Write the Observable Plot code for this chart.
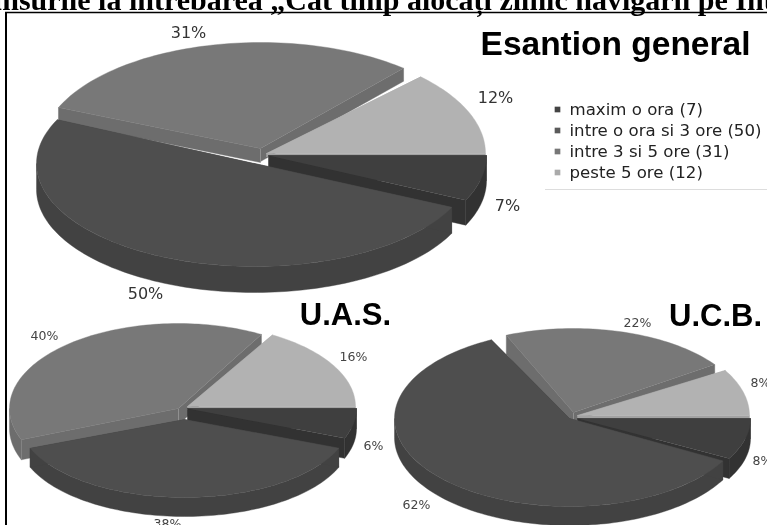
<!DOCTYPE html>
<html>
<head>
<meta charset="utf-8">
<style>
html,body{margin:0;padding:0;background:#fff;overflow:hidden}
svg{display:block;filter:blur(0.45px)}
</style>
<script src="https://cdn.jsdelivr.net/npm/d3@7"></script>
<script src="https://cdn.jsdelivr.net/npm/@observablehq/plot@0.6"></script>
</head>
<body>
<div id="chart"></div>
<script>
// ---- data ----
const categories = ["maxim o ora", "intre o ora si 3 ore", "intre 3 si 5 ore", "peste 5 ore"];
const generalValues = [7, 50, 31, 12];
const uasValues = [6, 38, 40, 16];
const ucbValues = [8, 62, 22, 8];
const chartTitle = "Răspunsurile la întrebarea „Cât timp alocați zilnic navigării pe Internet?”";
const pieTitles = ["Esantion general", "U.A.S.", "U.C.B."];

// ---- styles and layout ----
const topColors = ["#3f3f3f", "#4e4e4e", "#787878", "#b2b2b2"];
const sideColors = ["#323232", "#424242", "#6d6d6d", "#a2a2a2"];
const legendColors = ["#444444", "#5a5a5a", "#777777", "#aaaaaa"];
const paintOrder = [2, 3, 0, 1];
// per-slice placement: exploded centre, radii, extrusion of outer wall and of the two radial walls,
// perspective trim (degrees) of the arc ends
const generalLayout = [
  {cx: 268, cy: 155, rx: 218, ry: 105, d: 25, w: [25, 25], trim: [0, 0]},
  {cx: 254, cy: 163, rx: 218, ry: 103, d: 26, w: [26, 26], trim: [0, 0]},
  {cx: 260, cy: 148, rx: 219, ry: 106, d: 25, w: [14, 13], trim: [-2.5, -6]},
  {cx: 266, cy: 153, rx: 219, ry: 108, d: 25, w: [3, 3], trim: [-2, 0]}
];
const uasLayout = [
  {cx: 187, cy: 408, rx: 169, ry: 81, d: 20, w: [20, 20], trim: [0, 0]},
  {cx: 184, cy: 419, rx: 166, ry: 78, d: 19, w: [19, 19], trim: [0, 0]},
  {cx: 178, cy: 408, rx: 169, ry: 85, d: 20, w: [20, 16], trim: [0, -3]},
  {cx: 187, cy: 406, rx: 168, ry: 83, d: 20, w: [3, 3], trim: [-2, 0]}
];
const ucbLayout = [
  {cx: 577, cy: 418, rx: 173, ry: 83, d: 20, w: [20, 20], trim: [0, 0]},
  {cx: 569, cy: 418, rx: 175, ry: 88, d: 19, w: [19, 19], trim: [0, -8.5]},
  {cx: 573, cy: 412, rx: 172, ry: 84, d: 20, w: [19, 9], trim: [-5, -6]},
  {cx: 577, cy: 415, rx: 172, ry: 88, d: 20, w: [3, 3], trim: [-2, 0]}
];

const rad = Math.PI / 180;
function arcAngles(a0, a1) {
  const n = Math.max(2, Math.ceil(Math.abs(a1 - a0) / 1.5));
  return d3.range(n + 1).map(i => a0 + (a1 - a0) * i / n);
}
// Turns one pie's values into polygons, back slices first
function piePolygons(values, layout) {
  const total = d3.sum(values);
  const ends = d3.cumsum(values).map(v => v / total * 360);
  const polys = [];
  for (const i of paintOrder) {
    const s = layout[i];
    const a0 = (i ? ends[i - 1] : 0) + s.trim[0];
    const a1 = ends[i] + s.trim[1];
    const at = (a, dz = 0) => ({
      x: s.cx + s.rx * Math.cos(a * rad),
      y: s.cy + s.ry * Math.sin(a * rad) + dz
    });
    const apex = dz => ({x: s.cx, y: s.cy + dz});
    // outer wall: only the part of the arc facing the viewer (0..180 degrees)
    const lo = Math.max(a0, 0), hi = Math.min(a1, 180);
    if (hi > lo) {
      const arc = arcAngles(lo, hi);
      polys.push({fill: sideColors[i], pts: [...arc.map(a => at(a)), ...arc.slice().reverse().map(a => at(a, s.d))]});
    }
    // radial walls
    [a0, a1].forEach((a, k) => {
      polys.push({fill: sideColors[i], pts: [apex(0), at(a), at(a, s.w[k]), apex(s.w[k])]});
    });
    // top face
    polys.push({fill: topColors[i], pts: [apex(0), ...arcAngles(a0, a1).map(a => at(a))]});
  }
  return polys;
}

const polygons = [
  ...piePolygons(generalValues, generalLayout),
  ...piePolygons(uasValues, uasLayout),
  ...piePolygons(ucbValues, ucbLayout)
];

const pct = v => v + "%";
const labelFont = "DejaVu Sans";
const bigLabels = [
  {x: 507, y: 205, t: pct(generalValues[0])},
  {x: 145, y: 293, t: pct(generalValues[1])},
  {x: 188, y: 32, t: pct(generalValues[2])},
  {x: 495, y: 97, t: pct(generalValues[3])}
];
const smallLabels = [
  {x: 373, y: 445, t: pct(uasValues[0])},
  {x: 167, y: 523, t: pct(uasValues[1])},
  {x: 44, y: 335, t: pct(uasValues[2])},
  {x: 353, y: 356, t: pct(uasValues[3])},
  {x: 762, y: 460, t: pct(ucbValues[0])},
  {x: 416, y: 504, t: pct(ucbValues[1])},
  {x: 637, y: 322, t: pct(ucbValues[2])},
  {x: 760, y: 382, t: pct(ucbValues[3])}
];
const legendRows = categories.map((c, i) => ({
  c, fill: legendColors[i], y: 109 + i * 21,
  t: `${c} (${generalValues[i]})`
}));
const headings = [
  {x: 615, y: 44, t: pieTitles[0], s: 33.5},
  {x: 345, y: 315, t: pieTitles[1], s: 31},
  {x: 715, y: 316, t: pieTitles[2], s: 31}
];

const chart = Plot.plot({
  width: 767,
  height: 525,
  margin: 0,
  style: {background: "#fff", color: "#000"},
  x: {domain: [0, 767], range: [0, 767], axis: null},
  y: {domain: [0, 525], range: [0, 525], axis: null},
  marks: [
    ...polygons.map(p => Plot.line(p.pts, {x: "x", y: "y", fill: p.fill, stroke: p.fill, strokeWidth: 0.4, curve: "linear"})),
    Plot.ruleX([5.5], {y1: 12, y2: 525, stroke: "#000", strokeWidth: 2}),
    Plot.ruleY([12], {x1: 5, x2: 767, stroke: "#000", strokeWidth: 1.6}),
    Plot.ruleY([189], {x1: 545, x2: 767, stroke: "#dddddd", strokeWidth: 1}),
    Plot.text([chartTitle], {x: -80, y: 9, text: d => d, textAnchor: "start", lineAnchor: "bottom",
      fontFamily: "Liberation Serif", fontWeight: "bold", fontSize: 30, fill: "#000"}),
    Plot.text(bigLabels, {x: "x", y: "y", text: "t", fontFamily: labelFont, fontSize: 16, fill: "#333"}),
    Plot.text(smallLabels, {x: "x", y: "y", text: "t", fontFamily: labelFont, fontSize: 12.5, fill: "#444"}),
    Plot.dot(legendRows, {x: 557, y: "y", symbol: "square", r: 3.2, fill: "fill"}),
    Plot.text(legendRows, {x: 569, y: "y", text: "t", textAnchor: "start", fontFamily: labelFont, fontSize: 16.6, fill: "#222"}),
    Plot.text(headings, {x: "x", y: "y", text: "t", fontSize: "s", fontFamily: "Liberation Sans", fontWeight: "bold", fill: "#000"})
  ],
  color: {type: "identity"}
});
document.getElementById("chart").append(chart);
</script>
</body>
</html>
